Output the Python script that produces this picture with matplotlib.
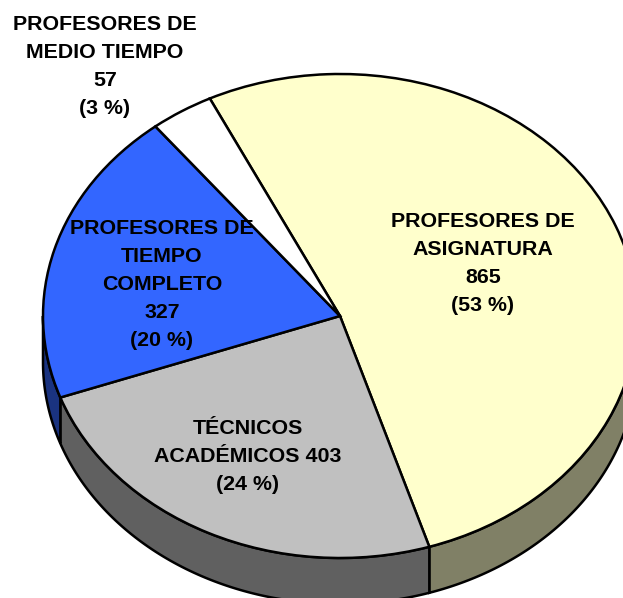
import numpy as np
import matplotlib
matplotlib.use("Agg")
import matplotlib.pyplot as plt

categories = ["PROFESORES DE\nASIGNATURA", "TÉCNICOS\nACADÉMICOS", "PROFESORES DE\nTIEMPO\nCOMPLETO", "PROFESORES DE\nMEDIO TIEMPO"]
values = [865, 403, 327, 57]
percents = [53, 24, 20, 3]
top_colors = ["#FFFFCC", "#C0C0C0", "#3366FF", "#FFFFFF"]
side_colors = ["#808066", "#606060", "#1A3380", "#808080"]

W, H = 623, 598
CX, CY, RX, RY, DEPTH = 340, 316, 297, 242, 46
START = 116.0
LW = 1.8

plt.rcParams["font.family"] = ["Liberation Sans", "DejaVu Sans"]
fig = plt.figure(figsize=(W / 100, H / 100), dpi=100)
ax = fig.add_axes([0, 0, 1, 1])

px = lambda x: (x - CX) / RX
py = lambda y: (CY - y) / RY
depth = DEPTH / RY

# visible side walls of the pie
fracs = np.array(values) / sum(values) * 360
edges = START - np.concatenate([[0], np.cumsum(fracs)])
for a0, a1, col in zip(edges[:-1], edges[1:], side_colors):
    for shift in (0, 360, -360):
        hi = min(a0 + shift, 0)
        lo = max(a1 + shift, -180)
        if hi > lo:
            t = np.radians(np.linspace(hi, lo, 100))
            xs = np.cos(t)
            ys = np.sin(t)
            ax.fill(np.r_[xs, xs[::-1]], np.r_[ys, ys[::-1] - depth],
                    facecolor=col, edgecolor="black", lw=LW, zorder=1)

ax.pie(values, colors=top_colors, startangle=START, counterclock=False, radius=1,
       wedgeprops=dict(edgecolor="black", linewidth=LW, zorder=2))
ax.set_aspect("auto")
ax.set_xlim(px(0), px(W))
ax.set_ylim(py(H), py(0))
ax.axis("off")

label_pos = [(483, 263.5), (248, 457), (162, 285), (105, 67)]
labels = [
    f"{categories[0]}\n{values[0]}\n({percents[0]} %)",
    f"{categories[1]} {values[1]}\n({percents[1]} %)",
    f"{categories[2]}\n{values[2]}\n({percents[2]} %)",
    f"{categories[3]}\n{values[3]}\n({percents[3]} %)",
]
for (x, y), s in zip(label_pos, labels):
    ax.text(px(x), py(y), s, ha="center", va="center", ma="center",
            fontsize=15.4, fontweight="bold", color="black", linespacing=1.6, zorder=5)

fig.savefig("out.png", dpi=100)
